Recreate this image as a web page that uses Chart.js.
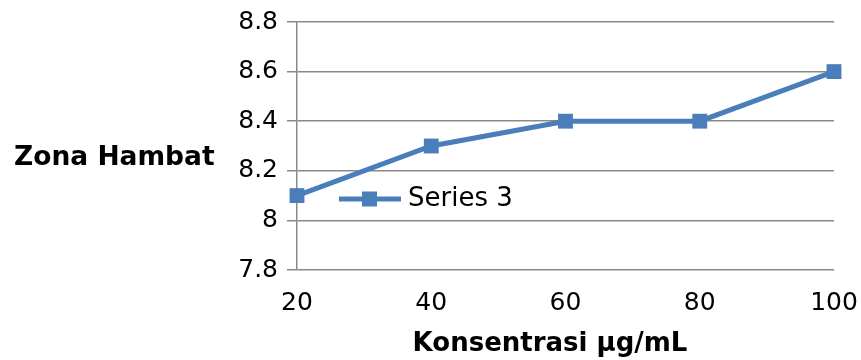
<!DOCTYPE html>
<html>
<head>
<meta charset="utf-8">
<script src="https://cdn.jsdelivr.net/npm/chart.js@4"></script>
<style>
  html, body { margin: 0; padding: 0; background: #fff; }
  #wrap { width: 861px; height: 360px; }
</style>
</head>
<body>
<div id="wrap"><canvas id="myChart" width="861" height="360"></canvas></div>
<script>
// data
const concentrations = [20, 40, 60, 80, 100];
const series3 = [8.1, 8.3, 8.4, 8.4, 8.6];
const xTicks = [20, 40, 60, 80, 100];
const yTicks = [7.8, 8.0, 8.2, 8.4, 8.6, 8.8];
const yTickLabels = ["7.8", "8", "8.2", "8.4", "8.6", "8.8"];
const seriesName = "Series 3";
const xTitle = "Konsentrasi µg/mL";
const yTitle = "Zona Hambat";

const lineColor = "#4a7ebb";
const gridColor = "#898989";
const fontFamily = "'DejaVu Sans', sans-serif";

// titles and the in-plot legend, placed like the Excel original
const annotations = {
  id: "annotations",
  afterDraw(chart) {
    const ctx = chart.ctx;
    ctx.save();
    ctx.fillStyle = "#000";
    ctx.textBaseline = "middle";

    ctx.font = "bold 26.5px " + fontFamily;
    ctx.textAlign = "left";
    ctx.fillText(yTitle, 14, 158);
    ctx.font = "bold 26px " + fontFamily;
    ctx.textAlign = "center";
    ctx.fillText(xTitle, 550, 344);

    // legend
    const ly = 199;
    ctx.strokeStyle = lineColor;
    ctx.lineWidth = 5;
    ctx.beginPath();
    ctx.moveTo(339, ly);
    ctx.lineTo(401, ly);
    ctx.stroke();
    ctx.fillStyle = lineColor;
    ctx.fillRect(362, ly - 7.5, 15, 15);
    ctx.fillStyle = "#000";
    ctx.textAlign = "left";
    ctx.font = "26px " + fontFamily;
    ctx.fillText(seriesName, 408, ly);
    ctx.restore();
  },
};

const ctx = document.getElementById("myChart").getContext("2d");
const config = {
  type: "line",
  data: {
    datasets: [
      {
        label: seriesName,
        data: concentrations.map((c, i) => ({ x: c, y: series3[i] })),
        borderColor: lineColor,
        backgroundColor: lineColor,
        borderWidth: 5,
        pointStyle: "rect",
        pointRadius: 10.5,
        pointHoverRadius: 10.5,
        pointBorderWidth: 0,
        pointBackgroundColor: lineColor,
        tension: 0,
        clip: false,
      },
    ],
  },
  options: {
    responsive: false,
    animation: false,
    events: [],
    layout: {
      padding: { left: 0, right: 27, top: 22, bottom: 0 },
    },
    scales: {
      x: {
        type: "linear",
        min: 20,
        max: 100,
        afterBuildTicks: (scale) => {
          scale.ticks = xTicks.map((v) => ({ value: v }));
        },
        afterFit: (scale) => {
          scale.height = 90;
          scale.paddingLeft = 0;
          scale.paddingRight = 0;
        },
        grid: { display: false },
        border: { display: false },
        ticks: {
          color: "#000",
          padding: 10,
          maxRotation: 0,
          font: { family: fontFamily, size: 25 },
        },
      },
      y: {
        type: "linear",
        min: 7.8,
        max: 8.8,
        afterBuildTicks: (scale) => {
          scale.ticks = yTicks.map((v) => ({ value: v }));
        },
        afterFit: (scale) => {
          scale.width = 297;
          scale.paddingTop = 0;
          scale.paddingBottom = 0;
        },
        grid: {
          color: gridColor,
          lineWidth: 1.5,
          tickLength: 10,
        },
        border: { display: true, color: gridColor, width: 1.5 },
        ticks: {
          color: "#000",
          padding: 9,
          font: { family: fontFamily, size: 25 },
          callback: (value) => {
            const i = yTicks.findIndex((t) => Math.abs(t - value) < 1e-6);
            return i >= 0 ? yTickLabels[i] : "";
          },
        },
      },
    },
    plugins: {
      legend: { display: false },
      tooltip: { enabled: false },
      title: { display: false },
    },
  },
  plugins: [annotations],
};
const myChart = new Chart(ctx, config);
</script>
</body>
</html>
